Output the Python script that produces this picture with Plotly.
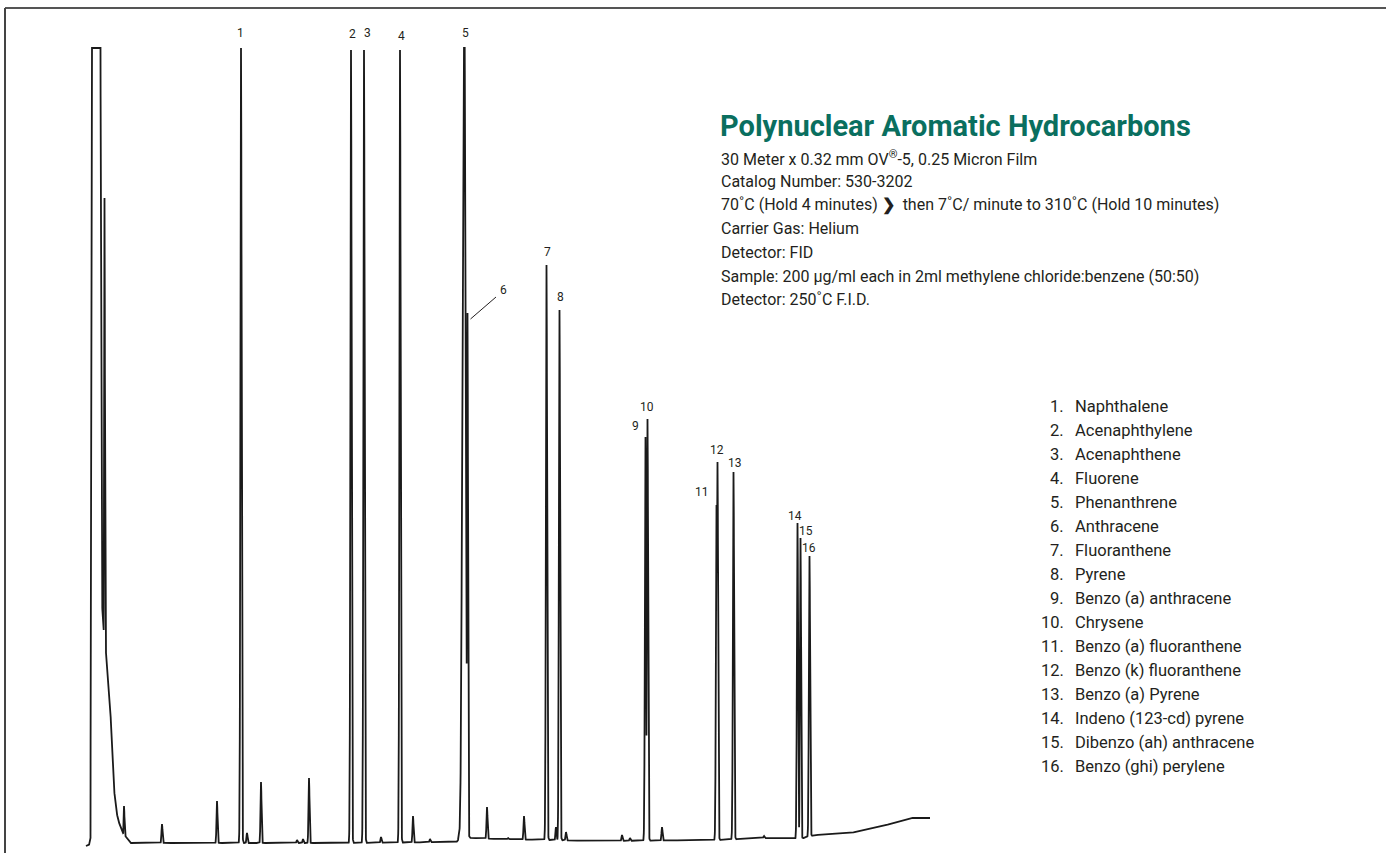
import numpy as np
import plotly.graph_objects as go

# ---------------- data ----------------
# detector response in arbitrary units (full scale = 805), retention position in arbitrary units
peak_numbers = [str(i) for i in range(1, 17)]
peak_pos = [241, 351, 364, 400, 464, 467.5, 546.5, 559.5, 645.5, 647.5,
            716.5, 717.5, 733.5, 797.5, 800.5, 809.5]
peak_apex = [805, 803, 803, 803, 900, 540, 588, 543, 416, 434,
             348, 391, 381, 330, 315, 297]
peak_sigma = [0.6, 0.6, 0.6, 0.6, 1.5, 0.5, 0.6, 0.6, 0.6, 0.6,
              0.6, 0.6, 0.6, 0.6, 0.55, 0.6]

minor_pos = [104.5, 124, 162, 217, 247, 261, 297, 303, 309, 381, 413, 430,
             459, 487, 508, 524, 556, 566, 622, 630, 662, 764]
minor_apex = [655, 47, 29, 52, 20, 71, 13, 14, 75, 16, 37, 14,
              21, 46, 15, 37, 26, 21, 18, 15, 26, 17]

solvent_pos = [86, 89, 90.5, 91.3, 100.5, 101.6, 103, 106, 108, 110,
               111.8, 113.3, 115.5, 118, 123, 130]
solvent_resp = [7, 8, 15, 805, 805, 260, 230, 200, 175, 153,
                108, 73, 48, 33, 20, 11]

baseline_pos = [86, 130, 350, 455, 470, 500, 600, 720, 760, 800, 815,
                850, 880, 910, 930]
baseline_resp = [7, 10, 10, 11, 15, 14, 12, 13, 15, 14, 18,
                 20, 26, 35, 35]

compounds = ["Naphthalene", "Acenaphthylene", "Acenaphthene", "Fluorene",
             "Phenanthrene", "Anthracene", "Fluoranthene", "Pyrene",
             "Benzo (a) anthracene", "Chrysene", "Benzo (a) fluoranthene",
             "Benzo (k) fluoranthene", "Benzo (a) Pyrene",
             "Indeno (123-cd) pyrene", "Dibenzo (ah) anthracene",
             "Benzo (ghi) perylene"]

title = "Polynuclear Aromatic Hydrocarbons"
conditions = [
    "30 Meter x 0.32 mm OV<sup>®</sup>-5, 0.25 Micron Film",
    "Catalog Number: 530-3202",
    "70˚C (Hold 4 minutes) <b>❯</b>  then 7˚C/ minute to 310˚C (Hold 10 minutes)",
    "Carrier Gas: Helium",
    "Detector: FID",
    "Sample: 200 µg/ml each in 2ml methylene chloride:benzene (50:50)",
    "Detector: 250˚C F.I.D.",
]

FULL_SCALE = 805

# ---------------- build trace ----------------
x = np.arange(86.0, 930.05, 0.1)
base = np.interp(x, baseline_pos, baseline_resp)
sig = base.copy()
for p, a, s in zip(peak_pos, peak_apex, peak_sigma):
    h = a - np.interp(p, baseline_pos, baseline_resp)
    sig = np.maximum(sig, base + h * np.exp(-0.5 * ((x - p) / s) ** 2))
for p, a in zip(minor_pos, minor_apex):
    h = a - np.interp(p, baseline_pos, baseline_resp)
    sig = np.maximum(sig, base + h * np.exp(-0.5 * ((x - p) / 0.5) ** 2))
solv = np.interp(x, solvent_pos, solvent_resp, left=0, right=0)
sig = np.maximum(sig, solv)
sig = np.minimum(sig, FULL_SCALE)

FONT = "Roboto, Arial, sans-serif"
INK = "#231f20"
TEAL = "#0a6f5f"

fig = go.Figure()
fig.add_trace(go.Scatter(x=x, y=sig, mode="lines",
                         line=dict(color="#1a1a1a", width=1.8),
                         hoverinfo="skip", showlegend=False))

ann = []
# peak labels
label_offsets = {  # (dx, label height in response units)
    "1": (-1, 820), "2": (1, 819), "3": (3, 820), "4": (1, 817), "5": (1, 820),
    "6": (36, 563), "7": (0.5, 601), "8": (0.5, 556), "9": (-10, 427),
    "10": (-0.5, 446), "11": (-14.5, 361), "12": (-0.5, 403), "13": (1.5, 390),
    "14": (-2.5, 337), "15": (5.5, 322), "16": (-0.5, 305),
}
for n, p in zip(peak_numbers, peak_pos):
    dx, yy = label_offsets[n]
    ann.append(dict(x=p + dx, y=yy, text=n, showarrow=False,
                    font=dict(family=FONT, size=12, color=INK),
                    xanchor="center", yanchor="middle"))

# title block
ann.append(dict(x=718, y=853 - 126, text="<b>%s</b>" % title, showarrow=False,
                font=dict(family=FONT, size=29, color=TEAL),
                xanchor="left", yanchor="middle"))
for i, line in enumerate(conditions):
    ann.append(dict(x=719, y=853 - (158 + i * 23.6), text=line, showarrow=False,
                    font=dict(family=FONT, size=16, color=INK),
                    xanchor="left", yanchor="middle"))

# compound list
for i, (n, c) in enumerate(zip(peak_numbers, compounds)):
    yy = 853 - (406 + i * 24)
    ann.append(dict(x=1066, y=yy, text=n + ".", showarrow=False,
                    font=dict(family=FONT, size=16.5, color=INK),
                    xanchor="right", yanchor="middle"))
    ann.append(dict(x=1073, y=yy, text=c, showarrow=False,
                    font=dict(family=FONT, size=16.5, color=INK),
                    xanchor="left", yanchor="middle"))

shapes = [
    # leader line for peak 6
    dict(type="line", xref="x", yref="y", x0=470.5, y0=853 - 319, x1=496, y1=853 - 297,
         line=dict(color=INK, width=1)),
    # frame (top and left edges)
    dict(type="line", xref="paper", yref="paper", x0=5 / 1386, y0=1 - 8 / 853,
         x1=1, y1=1 - 8 / 853, line=dict(color="#555555", width=2)),
    dict(type="line", xref="paper", yref="paper", x0=5 / 1386, y0=0,
         x1=5 / 1386, y1=1 - 8 / 853, line=dict(color="#444444", width=2)),
]

fig.update_layout(
    width=1386, height=853,
    margin=dict(l=0, r=0, t=0, b=0),
    paper_bgcolor="white", plot_bgcolor="white",
    xaxis=dict(range=[0, 1386], visible=False, fixedrange=True),
    yaxis=dict(range=[0, 853], visible=False, fixedrange=True),
    annotations=ann, shapes=shapes, showlegend=False,
)
fig.write_html("out.html", config={"displayModeBar": False},
               post_script="document.body.style.margin='0';document.body.style.overflow='hidden';")
